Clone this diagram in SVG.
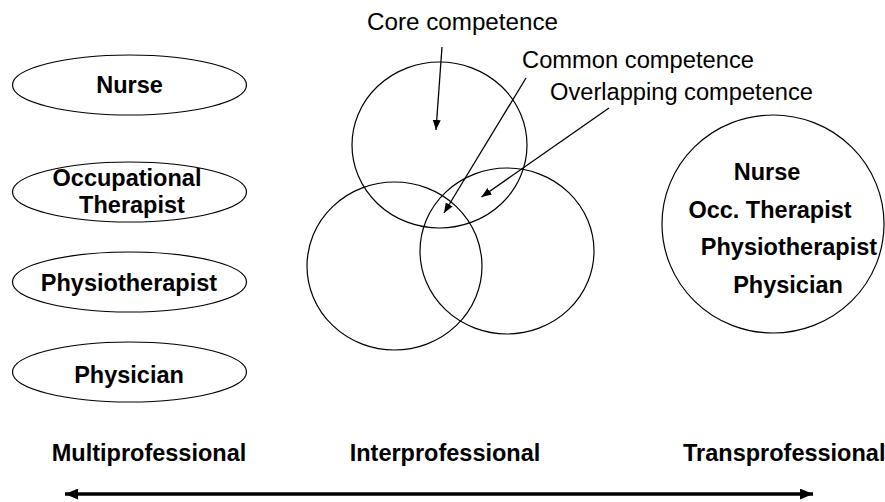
<svg xmlns="http://www.w3.org/2000/svg" width="885" height="502" viewBox="0 0 885 502">
<style>
.shape{fill:none;stroke:#000;stroke-width:1.2}
.b{font-family:"Liberation Sans",Arial,sans-serif;font-weight:bold;font-size:23.5px;fill:#000;text-anchor:middle}
.r{font-family:"Liberation Sans",Arial,sans-serif;font-size:23px;fill:#000}
.conn{fill:none;stroke:#000;stroke-width:1.3}
</style>
<defs>
<marker id="ah" viewBox="0 0 10 10" refX="10" refY="5" markerWidth="10" markerHeight="10" markerUnits="userSpaceOnUse" orient="auto">
<path d="M0,1 L10,5 L0,9 z" fill="#000"/>
</marker>
<marker id="big" viewBox="0 0 12 10" refX="12" refY="5" markerWidth="13" markerHeight="11" markerUnits="userSpaceOnUse" orient="auto-start-reverse">
<path d="M0,0 L12,5 L0,10 z" fill="#000"/>
</marker>
</defs>
<rect width="885" height="502" fill="#fff"/>

<g id="multi-nurse"><ellipse class="shape" cx="129.5" cy="85" rx="117" ry="30"/><text class="b" x="129.5" y="93">Nurse</text></g>
<g id="multi-ot"><ellipse class="shape" cx="129.5" cy="192" rx="117" ry="30"/><text class="b" x="127" y="185.5">Occupational</text><text class="b" x="132" y="212.5">Therapist</text></g>
<g id="multi-physio"><ellipse class="shape" cx="129.5" cy="282" rx="117" ry="30"/><text class="b" x="129" y="290.5">Physiotherapist</text></g>
<g id="multi-physician"><ellipse class="shape" cx="129.5" cy="372" rx="117" ry="30"/><text class="b" x="129" y="383">Physician</text></g>

<g id="inter-top"><ellipse class="shape" cx="439.5" cy="145" rx="87.5" ry="83"/></g>
<g id="inter-left"><ellipse class="shape" cx="394.5" cy="266" rx="87.5" ry="84"/></g>
<g id="inter-right"><ellipse class="shape" cx="507" cy="251" rx="87" ry="83"/></g>

<g id="label-core"><text class="r" x="367" y="30" textLength="191" lengthAdjust="spacingAndGlyphs">Core competence</text></g>
<g id="label-common"><text class="r" x="522" y="67.5" textLength="232" lengthAdjust="spacingAndGlyphs">Common competence</text></g>
<g id="label-overlap"><text class="r" x="550" y="100" textLength="263" lengthAdjust="spacingAndGlyphs">Overlapping competence</text></g>

<g id="trans"><ellipse class="shape" cx="773" cy="224" rx="111" ry="109"/>
<text class="b" x="767" y="180">Nurse</text>
<text class="b" x="770" y="218">Occ. Therapist</text>
<text class="b" x="789" y="255">Physiotherapist</text>
<text class="b" x="788" y="293">Physician</text>
</g>

<g id="axis-labels">
<text class="b" x="149" y="461">Multiprofessional</text>
<text class="b" x="445" y="461">Interprofessional</text>
<text class="b" x="683" y="461" style="text-anchor:start">Transprofessional</text>
</g>

<g id="connectors">
<line class="conn" x1="442" y1="47" x2="436" y2="130" marker-end="url(#ah)"/>
<line class="conn" x1="526" y1="78" x2="444" y2="213" marker-end="url(#ah)"/>
<line class="conn" x1="609" y1="108" x2="481.5" y2="197" marker-end="url(#ah)"/>
<line x1="65" y1="494" x2="813" y2="494" stroke="#000" stroke-width="3.6" marker-start="url(#big)" marker-end="url(#big)"/>
</g>
</svg>
